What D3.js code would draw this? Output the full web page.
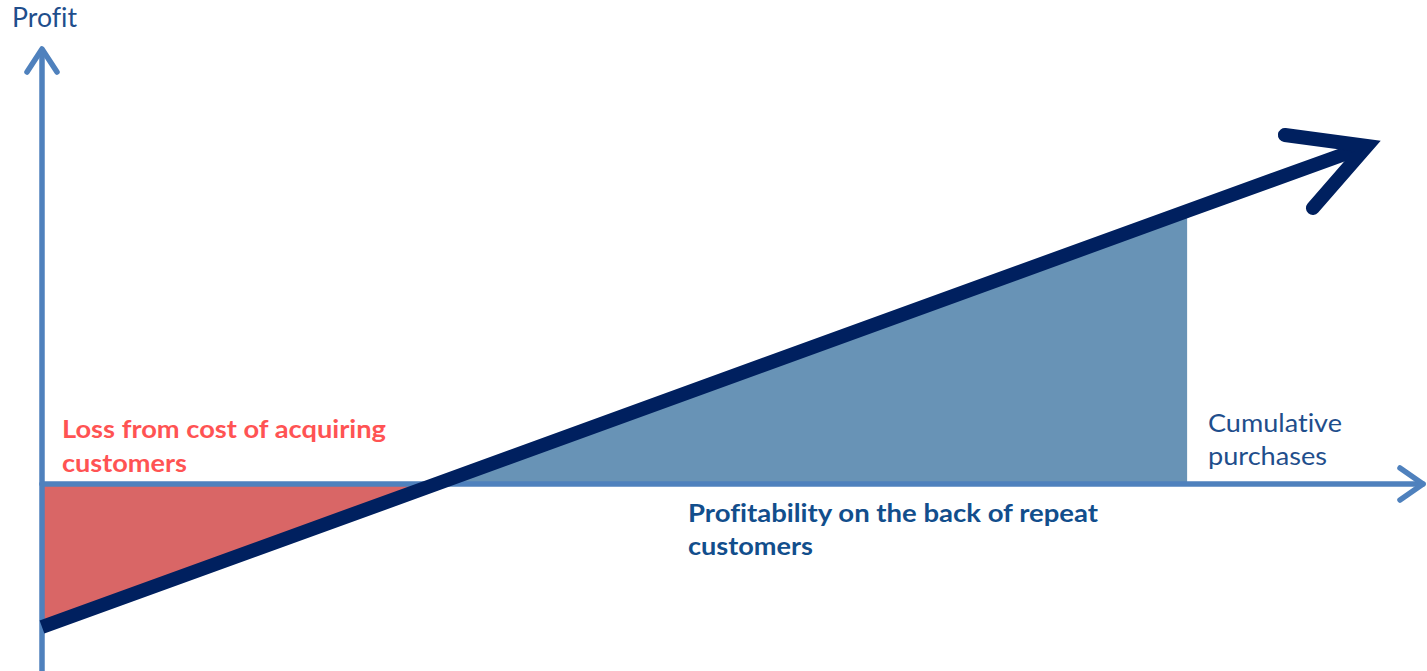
<!DOCTYPE html>
<html>
<head>
<meta charset="utf-8">
<script src="https://cdn.jsdelivr.net/npm/d3@7"></script>
<style>
  html, body { margin: 0; padding: 0; background: #ffffff; }
  svg { display: block; }
  text { font-family: Lato, "Open Sans", sans-serif; font-variant-ligatures: none; }
</style>
</head>
<body>
<svg id="chart" width="1427" height="671"></svg>
<script>
// Axis extents (cumulative purchases vs. profit, arbitrary units)
const xExtent = [0, 100];
const yExtent = [-18.7, 43.6];

// Customer profit curve: starts at a loss, breaks even, then grows with repeat purchases
const purchases = [0, 28.5, 82.8, 95.8];
const profit = [-14.3, 0, 27.3, 33.8];

// Shaded regions: loss before break-even, profit after
const lossX = [0, 0, 28.5];
const lossY = [0, -14.3, 0];
const gainX = [28.5, 82.8, 82.8];
const gainY = [0, 27.3, 0];

const labels = {
  yAxis: "Profit",
  xAxis: ["Cumulative", "purchases"],
  loss: ["Loss from cost of acquiring", "customers"],
  gain: ["Profitability on the back of repeat", "customers"]
};

const svg = d3.select("#chart");

const x = d3.scaleLinear().domain(xExtent).range([42, 1425]);
const y = d3.scaleLinear().domain(yExtent).range([671, 48]);

const axisColor = "#4f81bd";
const lineColor = "#00205f";

const area = (xs, ys) => d3.line()(xs.map((v, i) => [x(v), y(ys[i])])) + "Z";

// loss triangle
svg.append("path")
  .attr("d", area(lossX, lossY))
  .attr("fill", "#d96666");

// profit triangle
svg.append("path")
  .attr("d", area(gainX, gainY))
  .attr("fill", "#6893b6");

// axes
const axes = svg.append("g")
  .attr("stroke", axisColor)
  .attr("stroke-width", 5.5)
  .attr("fill", "none")
  .attr("stroke-linecap", "round")
  .attr("stroke-linejoin", "round");

const x0 = x(xExtent[0]);
const yZero = y(0);
const yTop = y(yExtent[1]);
// vertical axis
axes.append("line")
  .attr("x1", x0).attr("x2", x0)
  .attr("y1", y(yExtent[0]) + 5).attr("y2", yTop + 1)
  .attr("stroke-linecap", "butt");
axes.append("path")
  .attr("d", `M${x0 - 15},${yTop + 24} L${x0},${yTop + 1} L${x0 + 15},${yTop + 24}`);
// horizontal axis
const xEnd = x(xExtent[1]) - 2;
axes.append("line")
  .attr("x1", x0).attr("x2", xEnd)
  .attr("y1", yZero).attr("y2", yZero);
axes.append("path")
  .attr("d", `M${xEnd - 23},${yZero - 16} L${xEnd},${yZero} L${xEnd - 23},${yZero + 16}`);

// profit curve with open arrowhead
const pts = purchases.map((v, i) => [x(v), y(profit[i])]);
svg.append("path")
  .attr("d", d3.line()(pts))
  .attr("fill", "none")
  .attr("stroke", lineColor)
  .attr("stroke-width", 14)
  .attr("stroke-linecap", "butt");

const tip = pts[pts.length - 1];
svg.append("path")
  .attr("d", `M${tip[0] - 82},${tip[1] - 11} L${tip[0]},${tip[1]} L${tip[0] - 54},${tip[1] + 62}`)
  .attr("fill", "none")
  .attr("stroke", lineColor)
  .attr("stroke-width", 14)
  .attr("stroke-linecap", "round")
  .attr("stroke-linejoin", "miter")
  .attr("stroke-miterlimit", 10);

// text helper: fit each line to a target width
function block(lines, xPos, baselines, size, weight, color, widths) {
  lines.forEach((t, i) => {
    svg.append("text")
      .attr("x", xPos)
      .attr("y", baselines[i])
      .attr("font-size", size)
      .attr("font-weight", weight)
      .attr("fill", color)
      .attr("textLength", widths[i])
      .attr("lengthAdjust", "spacingAndGlyphs")
      .text(t);
  });
}

block([labels.yAxis], 12, [27], 26, 400, "#1f4e8c", [65]);
block(labels.xAxis, 1208, [432, 465], 25, 400, "#1f4e8c", [134, 119]);
block(labels.loss, 62, [438, 472], 25, 700, "#ff5353", [324, 125]);
block(labels.gain, 688, [522, 555], 25, 700, "#124e8c", [410, 125]);
</script>
</body>
</html>
